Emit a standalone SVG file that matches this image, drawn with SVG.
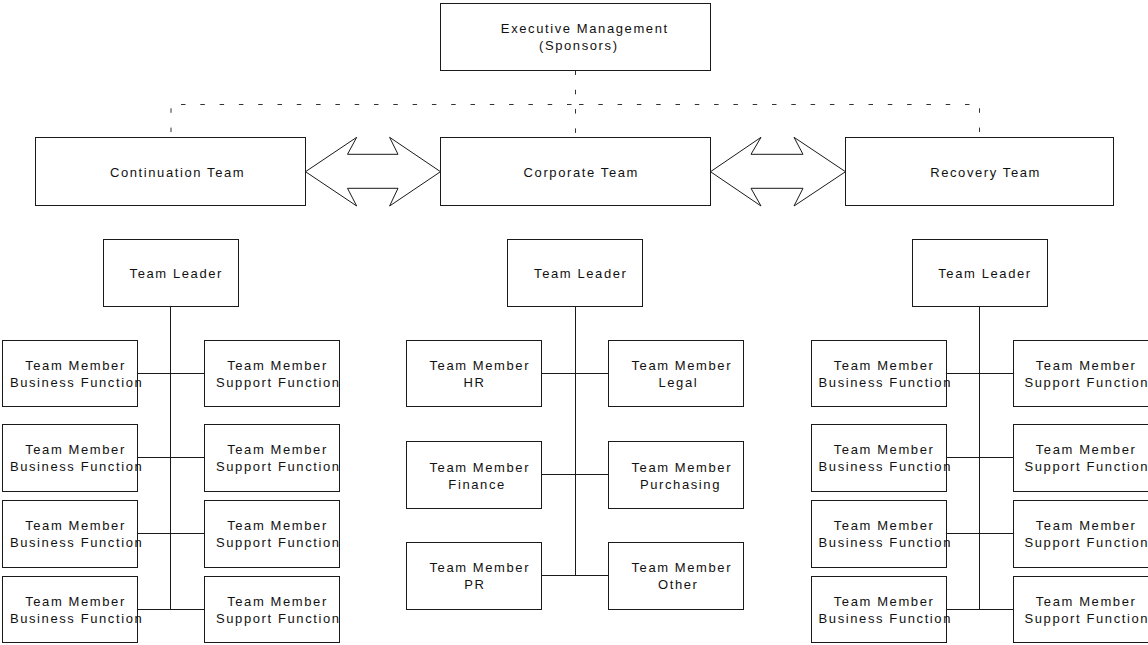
<svg xmlns="http://www.w3.org/2000/svg" width="1148" height="645" viewBox="0 0 1148 645">
<style>
.box{fill:#fff;stroke:#1a1a1a;stroke-width:1}
.ln{fill:none;stroke:#1a1a1a;stroke-width:1}
.dash{fill:none;stroke:#333;stroke-width:1;stroke-dasharray:4.5 14.8}
.arr{fill:#fff;stroke:#1a1a1a;stroke-width:1;stroke-linejoin:miter}
text{font-family:"Liberation Sans",Arial,sans-serif;font-size:13px;letter-spacing:1.6px;fill:#111;text-anchor:middle}
</style>
<rect width="1148" height="645" fill="#fff"/>
<g id="connectors">
<line class="dash" x1="575.5" y1="70.5" x2="575.5" y2="137"/>
<line class="dash" x1="181" y1="104.5" x2="575" y2="104.5"/>
<line class="dash" x1="579" y1="104.5" x2="975" y2="104.5"/>
<line class="dash" x1="171" y1="108.3" x2="171" y2="137"/>
<line class="dash" x1="979.5" y1="108.3" x2="979.5" y2="137"/>
<polygon class="arr" points="305.5,171.7 356.7,137.3 347.5,154.3 398,154.3 389.6,137.3 440.5,171.7 389.6,206 398,188.3 347.5,188.3 356.7,206"/>
<polygon class="arr" points="710.5,171.7 761,137.3 751,154.3 803,154.3 794,137.3 845.5,171.7 794,206 803,188.3 751,188.3 761,206"/>
<line class="ln" x1="170.5" y1="306.5" x2="170.5" y2="609.5"/>
<line class="ln" x1="137.5" y1="373.5" x2="204.5" y2="373.5"/>
<line class="ln" x1="137.5" y1="457.5" x2="204.5" y2="457.5"/>
<line class="ln" x1="137.5" y1="533.5" x2="204.5" y2="533.5"/>
<line class="ln" x1="137.5" y1="609.5" x2="204.5" y2="609.5"/>
<line class="ln" x1="575.5" y1="306.5" x2="575.5" y2="575.5"/>
<line class="ln" x1="541.5" y1="373.5" x2="608.5" y2="373.5"/>
<line class="ln" x1="541.5" y1="474.5" x2="608.5" y2="474.5"/>
<line class="ln" x1="541.5" y1="575.5" x2="608.5" y2="575.5"/>
<line class="ln" x1="979.5" y1="306.5" x2="979.5" y2="609.5"/>
<line class="ln" x1="946.5" y1="373.5" x2="1013.5" y2="373.5"/>
<line class="ln" x1="946.5" y1="457.5" x2="1013.5" y2="457.5"/>
<line class="ln" x1="946.5" y1="533.5" x2="1013.5" y2="533.5"/>
<line class="ln" x1="946.5" y1="609.5" x2="1013.5" y2="609.5"/>
</g>
<g id="exec"><rect class="box" x="440.5" y="3.5" width="270" height="67"/><text x="584.8" y="32.5">Executive Management</text><text x="578.8" y="50">(Sponsors)</text></g>
<g id="continuation"><rect class="box" x="35.5" y="137.5" width="270" height="68"/><text x="177.6" y="176.5">Continuation Team</text></g>
<g id="corporate"><rect class="box" x="440.5" y="137.5" width="270" height="68"/><text x="581.3" y="176.5">Corporate Team</text></g>
<g id="recovery"><rect class="box" x="845.5" y="137.5" width="268" height="68"/><text x="985.6" y="176.5">Recovery Team</text></g>

<g id="leader-cont"><rect class="box" x="103.5" y="239.5" width="135" height="67"/><text x="176.3" y="278">Team Leader</text></g>
<g id="leader-corp"><rect class="box" x="507.5" y="239.5" width="135" height="67"/><text x="580.8" y="278">Team Leader</text></g>
<g id="leader-rec"><rect class="box" x="912.5" y="239.5" width="135" height="67"/><text x="985" y="278">Team Leader</text></g>

<g id="cont-bf1"><rect class="box" x="2.5" y="340.5" width="135" height="66"/><text x="75.5" y="370">Team Member</text><text x="76.6" y="386.7">Business Function</text></g>
<g id="cont-bf2"><rect class="box" x="2.5" y="424.5" width="135" height="67"/><text x="75.5" y="454">Team Member</text><text x="76.6" y="470.7">Business Function</text></g>
<g id="cont-bf3"><rect class="box" x="2.5" y="500.5" width="135" height="67"/><text x="75.5" y="530">Team Member</text><text x="76.6" y="546.7">Business Function</text></g>
<g id="cont-bf4"><rect class="box" x="2.5" y="576.5" width="135" height="66"/><text x="75.5" y="606">Team Member</text><text x="76.6" y="622.7">Business Function</text></g>
<g id="cont-sf1"><rect class="box" x="204.5" y="340.5" width="135" height="66"/><text x="277.5" y="370">Team Member</text><text x="278.3" y="386.7">Support Function</text></g>
<g id="cont-sf2"><rect class="box" x="204.5" y="424.5" width="135" height="67"/><text x="277.5" y="454">Team Member</text><text x="278.3" y="470.7">Support Function</text></g>
<g id="cont-sf3"><rect class="box" x="204.5" y="500.5" width="135" height="67"/><text x="277.5" y="530">Team Member</text><text x="278.3" y="546.7">Support Function</text></g>
<g id="cont-sf4"><rect class="box" x="204.5" y="576.5" width="135" height="66"/><text x="277.5" y="606">Team Member</text><text x="278.3" y="622.7">Support Function</text></g>

<g id="corp-hr"><rect class="box" x="406.5" y="340.5" width="135" height="66"/><text x="479.8" y="370">Team Member</text><text x="474.6" y="386.7">HR</text></g>
<g id="corp-legal"><rect class="box" x="608.5" y="340.5" width="135" height="66"/><text x="681.8" y="370">Team Member</text><text x="678.3" y="386.7">Legal</text></g>
<g id="corp-finance"><rect class="box" x="406.5" y="441.5" width="135" height="67"/><text x="479.8" y="471.5">Team Member</text><text x="477.1" y="488.5">Finance</text></g>
<g id="corp-purchasing"><rect class="box" x="608.5" y="441.5" width="135" height="67"/><text x="681.8" y="471.5">Team Member</text><text x="680.5" y="488.5">Purchasing</text></g>
<g id="corp-pr"><rect class="box" x="406.5" y="542.5" width="135" height="67"/><text x="479.8" y="571.5">Team Member</text><text x="474.8" y="589">PR</text></g>
<g id="corp-other"><rect class="box" x="608.5" y="542.5" width="135" height="67"/><text x="681.8" y="571.5">Team Member</text><text x="678.3" y="589">Other</text></g>

<g id="rec-bf1"><rect class="box" x="811.5" y="340.5" width="135" height="66"/><text x="884.1" y="370">Team Member</text><text x="885.3" y="386.7">Business Function</text></g>
<g id="rec-bf2"><rect class="box" x="811.5" y="424.5" width="135" height="67"/><text x="884.1" y="454">Team Member</text><text x="885.3" y="470.7">Business Function</text></g>
<g id="rec-bf3"><rect class="box" x="811.5" y="500.5" width="135" height="67"/><text x="884.1" y="530">Team Member</text><text x="885.3" y="546.7">Business Function</text></g>
<g id="rec-bf4"><rect class="box" x="811.5" y="576.5" width="135" height="66"/><text x="884.1" y="606">Team Member</text><text x="885.3" y="622.7">Business Function</text></g>
<g id="rec-sf1"><rect class="box" x="1013.5" y="340.5" width="136" height="66"/><text x="1086.1" y="370">Team Member</text><text x="1086.8" y="386.7">Support Function</text></g>
<g id="rec-sf2"><rect class="box" x="1013.5" y="424.5" width="136" height="67"/><text x="1086.1" y="454">Team Member</text><text x="1086.8" y="470.7">Support Function</text></g>
<g id="rec-sf3"><rect class="box" x="1013.5" y="500.5" width="136" height="67"/><text x="1086.1" y="530">Team Member</text><text x="1086.8" y="546.7">Support Function</text></g>
<g id="rec-sf4"><rect class="box" x="1013.5" y="576.5" width="136" height="66"/><text x="1086.1" y="606">Team Member</text><text x="1086.8" y="622.7">Support Function</text></g>
</svg>
